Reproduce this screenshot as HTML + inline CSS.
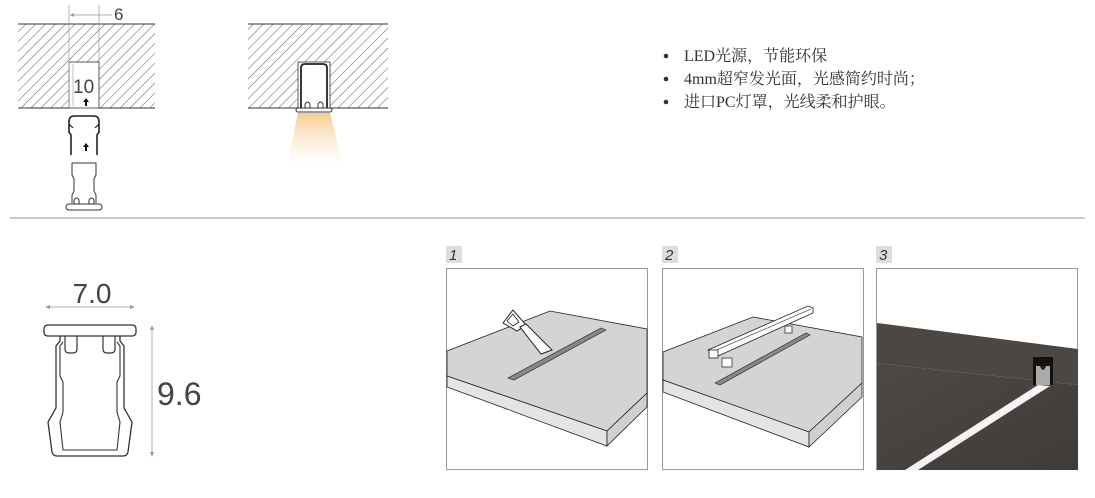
<!DOCTYPE html>
<html><head><meta charset="utf-8"><style>
html,body{margin:0;padding:0;background:#fff;width:1095px;height:498px;overflow:hidden}
svg{display:block}
</style></head><body>
<svg width="1095" height="498" viewBox="0 0 1095 498" xmlns="http://www.w3.org/2000/svg">
<defs>
<pattern id="h" width="7" height="7" patternUnits="userSpaceOnUse" patternTransform="rotate(45)">
<line x1="0" y1="0" x2="0" y2="7" stroke="#333" stroke-width="0.8"/>
</pattern>
<linearGradient id="lg" x1="0" y1="0" x2="0" y2="1">
<stop offset="0" stop-color="#f3c98a" stop-opacity="0.95"/>
<stop offset="1" stop-color="#fbe6c6" stop-opacity="0"/>
</linearGradient>
<linearGradient id="wd" x1="0" y1="0" x2="1" y2="1">
<stop offset="0" stop-color="#4e4945"/><stop offset="1" stop-color="#403b38"/>
</linearGradient>
</defs>

<!-- Top-left hatched block -->
<rect x="18" y="24" width="137" height="84" fill="url(#h)"/>
<line x1="18" y1="24" x2="155" y2="24" stroke="#333" stroke-width="1"/>
<line x1="18" y1="108" x2="69" y2="108" stroke="#333"/>
<line x1="99" y1="108" x2="155" y2="108" stroke="#333"/>
<rect x="69" y="62" width="30" height="46" fill="#fff" stroke="#333" stroke-width="0.8"/>
<line x1="69" y1="5" x2="69" y2="108" stroke="#999" stroke-width="0.7"/>
<line x1="99" y1="5" x2="99" y2="62" stroke="#999" stroke-width="0.7"/>
<line x1="70" y1="15" x2="112" y2="15" stroke="#999" stroke-width="0.7"/>
<path d="M70 15 l4 -2 v4z" fill="#999"/>
<text x="114" y="20" font-family="Liberation Sans,sans-serif" font-size="17" fill="#444">6</text>
<line x1="73" y1="64" x2="73" y2="106" stroke="#999" stroke-width="0.6"/>
<text x="73" y="93" font-family="Liberation Sans,sans-serif" font-size="19" fill="#444">10</text>
<path d="M86 98 l-3 4 h2 v4 h2 v-4 h2z" fill="#111"/>
<!-- clip profile moving -->
<path d="M71 155 v-20 l-2 -3 v-10 q0 -6 5 -6 h20 q5 0 5 6 v10 l-2 3 v20" fill="none" stroke="#222" stroke-width="1.6"/>
<path d="M69 124 l4 4 M99 124 l-4 4" stroke="#222" stroke-width="1.2"/>
<path d="M86 143 l-3 4 h2 v4 h2 v-4 h2z" fill="#111"/>
<path d="M72 163 h24 v12 l-2 4 v12 l2 4 v8 M72 163 v12 l2 4 v12 l-2 4 v8" fill="none" stroke="#333" stroke-width="1"/>
<rect x="66" y="204" width="36" height="6" rx="3" fill="#fff" stroke="#333"/>
<path d="M74 204 v-4 q3 -4 5 0 v4 M89 204 v-4 q3 -4 5 0 v4" fill="none" stroke="#333"/>

<!-- Top middle hatched block -->
<rect x="248" y="24" width="140" height="84" fill="url(#h)"/>
<line x1="248" y1="24" x2="388" y2="24" stroke="#333"/>
<line x1="248" y1="108" x2="298" y2="108" stroke="#333"/>
<line x1="330" y1="108" x2="388" y2="108" stroke="#333"/>
<rect x="298" y="62" width="32" height="46" fill="#fff" stroke="#333" stroke-width="0.8"/>
<path d="M301 108 v-40 q0 -4 4 -4 h18 q4 0 4 4 v40" fill="none" stroke="#222" stroke-width="1.8"/>
<rect x="296" y="108" width="36" height="4" rx="2" fill="#fff" stroke="#333"/>
<path d="M305 108 v-4 q3 -4 5 0 v4 M318 108 v-4 q3 -4 5 0 v4" fill="none" stroke="#333"/>
<polygon points="298,113 330,113 343,166 287,166" fill="url(#lg)"/>

<!-- bullets -->
<g font-family="'Liberation Serif','Noto Serif CJK SC',serif" font-size="16" fill="#333">
<circle cx="666" cy="56" r="2.3" fill="#333"/><text x="684" y="61">LED光源，节能环保</text>
<circle cx="666" cy="79" r="2.3" fill="#333"/><text x="684" y="84">4mm超窄发光面，光感简约时尚；</text>
<circle cx="666" cy="102" r="2.3" fill="#333"/><text x="684" y="107">进口PC灯罩，光线柔和护眼。</text>
</g>

<line x1="10" y1="218" x2="1085" y2="218" stroke="#aaa" stroke-width="1.2"/>

<!-- bottom-left profile -->
<text x="92" y="303" text-anchor="middle" font-family="Liberation Sans,sans-serif" font-size="28" fill="#444">7.0</text>
<line x1="46" y1="307" x2="134" y2="307" stroke="#999" stroke-width="0.8"/>
<path d="M45 307 l5 -2 v4z M135 307 l-5 -2 v4z" fill="#999"/>
<path d="M48 325 h84 q4 0 4 4 v3 q0 4 -4 4 h-84 q-4 0 -4 -4 v-3 q0 -4 4 -4z" fill="#fff" stroke="#333" stroke-width="1.3"/>
<path d="M65 336 v13 q0 4 4 4 h4 q4 0 4 -4 v-13 M103 336 v13 q0 4 4 4 h4 q4 0 4 -4 v-13" fill="none" stroke="#333" stroke-width="1.2"/>
<path d="M60 336 v5 l-4 5 v62 l-8 14 l4 30 q1 4 5 4 h66 q4 0 5 -4 l4 -30 l-8 -14 v-62 l-4 -5 v-5" fill="none" stroke="#333" stroke-width="1.3"/>
<path d="M63 342 l-3 4 v30 l3 6 v30 l-3 10 l3 28 h54 l3 -28 l-3 -10 v-30 l3 -6 v-30 l-3 -4" fill="none" stroke="#333" stroke-width="1.1"/>
<line x1="152" y1="327" x2="152" y2="455" stroke="#999" stroke-width="0.8"/>
<path d="M152 325 l-2 5 h4z M152 457 l-2 -5 h4z" fill="#999"/>
<text x="157" y="405" font-family="Liberation Sans,sans-serif" font-size="32" fill="#444">9.6</text>

<!-- step labels -->
<g font-family="Liberation Sans,sans-serif" font-size="15" font-style="italic" fill="#333">
<rect x="446" y="246" width="16" height="17" fill="#ddd"/><text x="449" y="260">1</text>
<rect x="662" y="246" width="16" height="17" fill="#ddd"/><text x="665" y="260">2</text>
<rect x="876" y="246" width="16" height="17" fill="#ddd"/><text x="879" y="260">3</text>
</g>

<!-- panel 1 -->
<rect x="446.5" y="268.5" width="201" height="201" fill="#fff" stroke="#999"/>
<polygon points="447,351 550,311 647,329 647,393 607,431 447,376" fill="#d4d4d4" stroke="#222" stroke-width="0.8"/>
<polygon points="447,376 607,431 607,446 447,387" fill="#e4e4e4" stroke="#222" stroke-width="0.8"/>
<polygon points="607,431 647,393 647,407 607,446" fill="#d0d0d0" stroke="#222" stroke-width="0.8"/>
<polygon points="508,378 601,328 606,330 514,380" fill="#888" stroke="#222" stroke-width="0.6"/>
<polygon points="503,323 513,310 526,325 517,331" fill="#fff" stroke="#222" stroke-width="1"/>
<polygon points="507,321 513,314 519,322 513,326" fill="none" stroke="#222" stroke-width="0.8"/>
<polygon points="520,327 526,324 552,350 541,354" fill="#fff" stroke="#222" stroke-width="1"/>
<!-- panel 2 -->
<rect x="662.5" y="268.5" width="201" height="201" fill="#fff" stroke="#999"/>
<polygon points="663,352 753,317 862,337 862,383 809,432 663,380" fill="#d4d4d4" stroke="#222" stroke-width="0.8"/>
<polygon points="663,380 809,432 809,447 663,392" fill="#e4e4e4" stroke="#222" stroke-width="0.8"/>
<polygon points="809,432 862,383 862,397 809,447" fill="#d0d0d0" stroke="#222" stroke-width="0.8"/>
<polygon points="715,383 806,333 810,335 720,385" fill="#888" stroke="#222" stroke-width="0.6"/>
<polygon points="708,350 808,306 813,308 813,313 718,356" fill="#fff" stroke="#222" stroke-width="0.8"/>
<line x1="712" y1="352" x2="811" y2="309" stroke="#222" stroke-width="0.6"/>
<rect x="709" y="350" width="9" height="8" fill="#fff" stroke="#222" stroke-width="0.8"/>
<rect x="722" y="358" width="10" height="9" fill="#fff" stroke="#333" stroke-width="0.8"/>
<rect x="785" y="326" width="7" height="7" fill="#fff" stroke="#333" stroke-width="0.8"/>
<!-- panel 3 -->
<rect x="876.5" y="268.5" width="201" height="201" fill="#fff" stroke="#999"/>
<polygon points="877,323 1078,349 1078,385 877,363" fill="#4d4743"/>
<polygon points="877,363 1078,385 1078,470 877,470" fill="url(#wd)"/>
<polygon points="1038,385 1050,386 918,470 905,470" fill="#f4f4f4"/>
<rect x="1033" y="357" width="20" height="28" fill="#111"/>
<rect x="1036" y="366" width="14" height="19" fill="#aaa"/>
<path d="M1040 366 q3 8 6 0" fill="#222"/>
</svg>
</body></html>
